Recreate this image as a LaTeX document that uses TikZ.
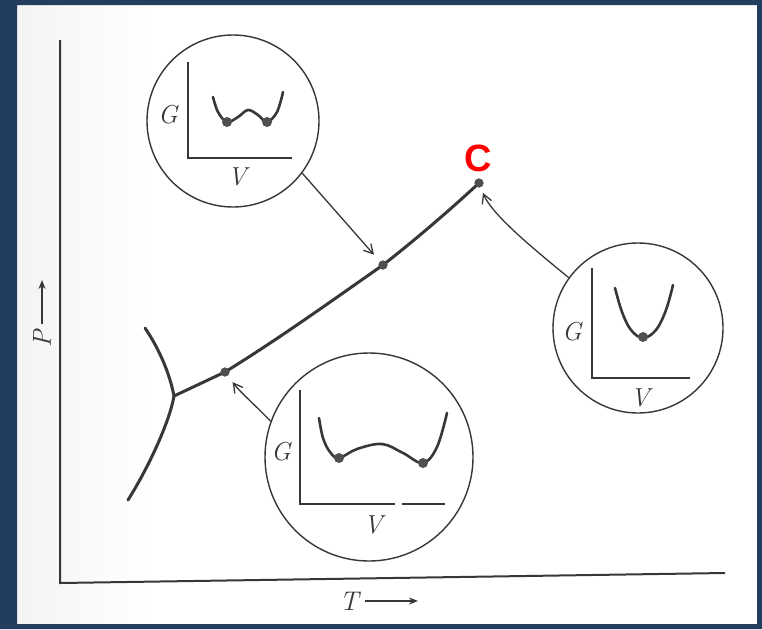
\documentclass[tikz,border=0pt]{standalone}
\usepackage{fontspec}
\newfontfamily\csans{Liberation Sans}
\usetikzlibrary{arrows.meta}
\definecolor{frameblue}{RGB}{35,61,95}
\definecolor{ink}{RGB}{55,55,55}
\definecolor{dotgray}{RGB}{80,80,80}
\tikzset{
  bubble/.style={circle, draw=ink, line width=1.4pt, inner sep=0pt},
  lab/.style={inner sep=0pt, font=\fontsize{26}{28}\selectfont\itshape, text=ink},
  inaxis/.style={draw=ink, line width=1.8pt},
  gcurve/.style={draw=ink, line width=2.6pt, line cap=round},
  phase/.style={draw=ink, line width=3pt, line cap=round, line join=round},
  pdot/.style={circle, fill=dotgray, inner sep=0pt, minimum size=9pt},
  gdot/.style={circle, fill=dotgray, inner sep=0pt, minimum size=10pt},
  conn/.style={draw=ink, line width=1.3pt, -{Straight Barb[length=9pt,width=10pt,line width=1.3pt]}},
  mainaxis/.style={draw=ink, line width=2pt},
}
\begin{document}
\begin{tikzpicture}[x=1pt,y=-1pt]
\useasboundingbox (0,0) rectangle (762,629);
% paper
\fill[white] (0,0) rectangle (762,629);
\shade[left color=gray!9, right color=white] (17,5) rectangle (150,624);
% frame on top
\fill[frameblue, even odd rule] (0,0) rectangle (762,629) (17,5) rectangle (757,624);

% main axes
\coordinate (ax0) at (60,40);
\coordinate (ax1) at (60,583);
\coordinate (ax2) at (725,573);
\draw[mainaxis, line join=miter] (ax0) -- (ax1) -- (ax2);
\node[lab, rotate=90, font=\fontsize{26}{28}\selectfont\itshape] (plab) at (42,339) {P};
\coordinate (pa0) at (42,324);
\coordinate (pa1) at (42,280);
\draw[ink, line width=1.6pt, -{Stealth[length=9pt,width=7pt]}] (pa0) -- (pa1);
\node[lab, font=\fontsize{27}{29}\selectfont\itshape] (tlab) at (349,601) {T};
\coordinate (ta0) at (365,601);
\coordinate (ta1) at (418,601);
\draw[ink, line width=1.6pt, -{Stealth[length=9pt,width=7pt]}] (ta0) -- (ta1);

% phase lines
\coordinate (tp) at (174,396);
\coordinate (ub) at (145,328);
\coordinate (lb) at (128,500);
\draw[phase] (ub) .. controls (160,350) and (170,375) .. (tp)
                  .. controls (170,420) and (150,465) .. (lb);
\node[pdot] (p1) at (225,372) {};
\node[pdot] (p2) at (383,265) {};
\node[pdot] (pc) at (479,183) {};
\draw[phase] (tp) -- (p1.center)
   .. controls (280,338) and (330,302) .. (p2.center)
   .. controls (415,240) and (450,210) .. (pc.center);
\node[pdot] at (p1) {};
\node[pdot] at (p2) {};
\node[pdot] at (pc) {};
\node[inner sep=0pt, text=red, font=\fontsize{38}{40}\selectfont\csans\bfseries] (clab) at (478,158) {C};

% bubble 1 (top left)
\node[bubble, minimum size=172pt] (c1) at (233,121) {};
\coordinate (a1t) at (188,62);
\coordinate (a1o) at (188,158);
\coordinate (a1r) at (292,158);
\draw[inaxis] (a1t) -- (a1o) -- (a1r);
\node[lab] (g1) at (168,115) {G};
\node[lab] (v1) at (237,177) {V};
\draw[gcurve] plot[smooth, tension=0.6] coordinates {(213,97) (218,112) (227,122) (238,117) (248,110) (258,115) (267,122) (277,112) (283,92)};
\node[gdot] (d1a) at (227,122) {};
\node[gdot] (d1b) at (267,122) {};

% bubble 2 (right)
\node[bubble, minimum size=170pt] (c2) at (638,328) {};
\coordinate (a2t) at (592,268);
\coordinate (a2o) at (592,378);
\coordinate (a2r) at (690,378);
\draw[inaxis] (a2t) -- (a2o) -- (a2r);
\node[lab] (g2) at (572,332) {G};
\node[lab] (v2) at (640,398) {V};
\draw[gcurve] plot[smooth, tension=0.6] coordinates {(615,288) (622,312) (631,330) (643,338) (656,330) (666,310) (673,285)};
\node[gdot] (d2) at (643,337) {};

% bubble 3 (bottom)
\node[bubble, minimum size=208pt] (c3) at (369,457) {};
\coordinate (a3t) at (300,390);
\coordinate (a3o) at (300,504);
\coordinate (a3m) at (395,504);
\coordinate (a3n) at (402,504);
\coordinate (a3r) at (445,504);
\draw[inaxis] (a3t) -- (a3o) -- (a3m);
\draw[inaxis] (a3n) -- (a3r);
\node[lab] (g3) at (281,452) {G};
\node[lab] (v3) at (373,525) {V};
\draw[gcurve] plot[smooth, tension=0.6] coordinates {(319,418) (323,438) (330,452) (339,458) (357,449) (382,444) (403,453) (423,463) (437,447) (447,413)};
\node[gdot] (d3a) at (339,458) {};
\node[gdot] (d3b) at (423,463) {};

% connectors
\draw[conn, shorten >=9pt] (c1.-37) -- (p2);
\draw[conn, shorten >=6pt] (c2.144) .. controls (535,250) and (492,215) .. (pc);
\draw[conn, shorten >=8pt] (c3.160) .. controls (255,405) and (240,392) .. (p1);
\end{tikzpicture}
\end{document}
